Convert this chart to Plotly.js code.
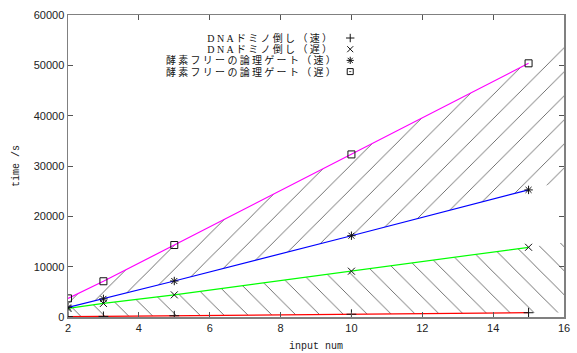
<!DOCTYPE html>
<html>
<head>
<meta charset="utf-8">
<script src="https://cdn.plot.ly/plotly-3.0.1.min.js"></script>
<style>
html,body{margin:0;padding:0;background:#fff;}
#chart{width:577px;height:353px;}
#chart .annotation-text{letter-spacing:2.3px;}
</style>
</head>
<body>
<div id="chart"></div>
<script>
// ---- data ----
var inputNum = [2, 3, 5, 10, 15];
var dnaFast  = [60, 120, 250, 550, 850];        // DNAドミノ倒し（速）
var dnaSlow  = [1700, 2700, 4400, 9100, 13850]; // DNAドミノ倒し（遅）
var enzFast  = [1900, 3600, 7150, 16150, 25250];// 酵素フリーの論理ゲート（速）
var enzSlow  = [3700, 7100, 14300, 32300, 50400];// 酵素フリーの論理ゲート（遅）
var seriesNames = ['DNAドミノ倒し（速）', 'DNAドミノ倒し（遅）', '酵素フリーの論理ゲート（速）', '酵素フリーの論理ゲート（遅）'];
var xTicks = [2, 4, 6, 8, 10, 12, 14, 16];
var yTicks = [0, 10000, 20000, 30000, 40000, 50000, 60000];

// ---- styles ----
var lineColors = ['#ff0000', '#00ff00', '#0000ff', '#ff00ff'];
var symbols = ['cross-thin-open', 'x-thin-open', 'asterisk-open', 'square-open'];
var legendSymbols = ['cross-thin-open', 'x-thin-open', 'asterisk-open', 'square-open-dot'];
var allSeries = [dnaFast, dnaSlow, enzFast, enzSlow];
var xEnd = 16;

// extend a series' last segment to the right edge of the plot (for hatched bands)
function extendX(xs) { return xs.concat([xEnd]); }
function extendY(xs, ys) {
  var n = xs.length;
  var s = (ys[n-1] - ys[n-2]) / (xs[n-1] - xs[n-2]);
  return ys.concat([ys[n-1] + s * (xEnd - xs[n-1])]);
}

var traces = [];
function band(lower, upper, shape) {
  traces.push({x: extendX(inputNum), y: extendY(inputNum, lower), mode: 'lines',
    line: {width: 0, color: 'rgba(0,0,0,0)'}, hoverinfo: 'skip', showlegend: false});
  traces.push({x: extendX(inputNum), y: extendY(inputNum, upper), mode: 'lines', fill: 'tonexty',
    fillcolor: 'rgba(0,0,0,0)',
    fillpattern: {shape: shape, size: 17, solidity: 0.05, fgcolor: '#3a3a3a', bgcolor: 'rgba(0,0,0,0)', fgopacity: 0.85},
    line: {width: 0, color: 'rgba(0,0,0,0)'}, hoverinfo: 'skip', showlegend: false});
}
band(dnaFast, dnaSlow, '\\');
band(enzFast, enzSlow, '/');

// coloured lines
for (var i = 0; i < 4; i++) {
  traces.push({x: inputNum, y: allSeries[i], mode: 'lines',
    line: {color: lineColors[i], width: 1.2}, showlegend: false, hoverinfo: 'skip'});
}
// points
for (var i = 0; i < 4; i++) {
  traces.push({x: inputNum, y: allSeries[i], mode: 'markers', name: seriesNames[i],
    marker: {symbol: symbols[i], size: 7, color: '#111', line: {width: 1, color: '#111'}},
    showlegend: false});
}

// custom gnuplot-style key (text right-aligned, symbol on the right)
var keyRowsY = [0.9238, 0.8868, 0.8497, 0.8126];
var keyTextX = 0.514, keySymX = 0.569;
var annotations = [];
for (var i = 0; i < 4; i++) {
  annotations.push({xref: 'paper', yref: 'paper', x: keyTextX, y: keyRowsY[i], xanchor: 'right', yanchor: 'middle',
    text: seriesNames[i], showarrow: false, borderpad: 0,
    font: {family: 'Liberation Serif, Noto Sans CJK JP', size: 10, color: '#111'}});
  traces.push({x: [keySymX], y: [keyRowsY[i]], xaxis: 'x2', yaxis: 'y2', mode: 'markers',
    marker: {symbol: legendSymbols[i], size: 6, color: '#111', line: {width: 1, color: '#111'}},
    showlegend: false, hoverinfo: 'skip'});
}

var axisCommon = {
  ticks: 'inside', ticklen: 5, tickcolor: '#555', tickwidth: 1,
  showline: true, mirror: 'ticks', linecolor: '#808080', linewidth: 1.5,
  showgrid: false, zeroline: false,
  tickfont: {family: 'Liberation Sans', size: 11, color: '#222'}
};

var layout = {
  width: 577, height: 353,
  margin: {l: 68, r: 13, t: 15, b: 36, autoexpand: false},
  paper_bgcolor: '#fff', plot_bgcolor: '#fff',
  showlegend: false,
  xaxis: Object.assign({}, axisCommon, {range: [2, 16], tickvals: xTicks, ticktext: xTicks.map(String),
    title: {text: 'input num', font: {family: 'Liberation Mono', size: 10, color: '#222'}, standoff: 9}}),
  yaxis: Object.assign({}, axisCommon, {range: [0, 60000], tickvals: yTicks, ticktext: yTicks.map(String),
    title: {text: 'time /s', font: {family: 'Liberation Mono', size: 10, color: '#222'}, standoff: 12}}),
  xaxis2: {overlaying: 'x', range: [0, 1], visible: false, fixedrange: true},
  yaxis2: {overlaying: 'y', range: [0, 1], visible: false, fixedrange: true},
  annotations: annotations
};

Plotly.newPlot('chart', traces, layout, {staticPlot: true, displayModeBar: false});
</script>
</body>
</html>
